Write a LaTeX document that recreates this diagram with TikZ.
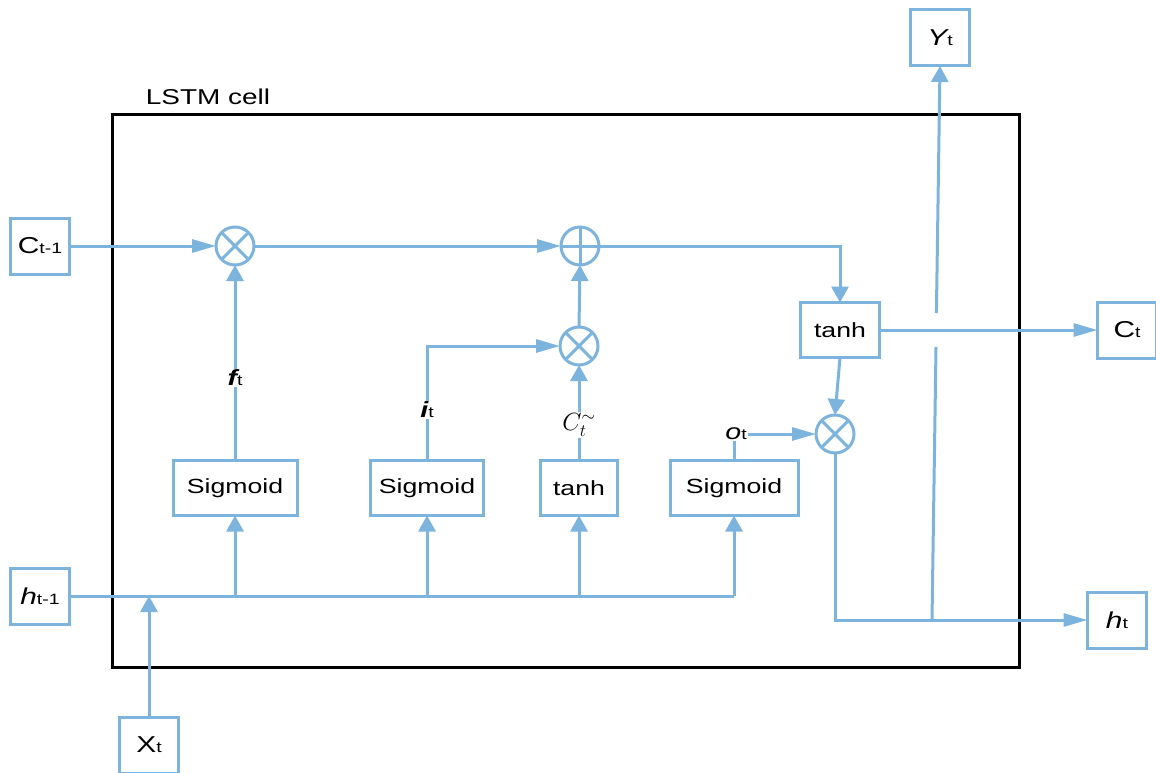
\documentclass[tikz,border=0pt]{standalone}
\usepackage{fontspec}
\setmainfont{Liberation Sans}[FakeStretch=1.3]
\usetikzlibrary{arrows.meta}
\definecolor{lb}{RGB}{125,180,222}
\begin{document}
\begin{tikzpicture}[x=1pt,y=-1pt,
  blk/.style={draw=lb,line width=3pt,inner sep=0pt,outer sep=0pt,fill=white},
  io/.style={blk,minimum width=59pt,minimum height=56pt},
  gate/.style={blk,minimum height=55pt,font=\fontsize{20.5}{22}\selectfont},
  op/.style={circle,draw=lb,line width=3pt,minimum size=38pt,inner sep=0pt,outer sep=0pt},
  conn/.style={draw=lb,line width=3pt},
  ha/.style={conn,-{Triangle[length=24pt,width=13pt]}},
  va/.style={conn,-{Triangle[length=16pt,width=17pt]}},
  lbl/.style={inner sep=1pt}]
\useasboundingbox (0,0) rectangle (1156,773);
% cell frame
\node[draw,line width=3pt,minimum width=907pt,minimum height=552pt,inner sep=0pt] (cell) at (565.5,391) {};
\node[font=\fontsize{21.5}{24}\selectfont] (title) at (208,97) {LSTM cell};
% io boxes
\node[io] (c0) at (40,246) {{\fontsize{23}{24}\selectfont C}{\fontsize{15}{16}\selectfont t-1}};
\node[io] (h0) at (40,596) {{\fontsize{23}{24}\selectfont\itshape h}{\fontsize{15}{16}\selectfont t-1}};
\node[io] (xt) at (149,745) {{\fontsize{23}{24}\selectfont X}{\fontsize{15}{16}\selectfont t}};
\node[io] (yt) at (940,38) {{\fontsize{23}{24}\selectfont\itshape Y}{\fontsize{15}{16}\selectfont t}};
\node[io] (ct) at (1127,330) {{\fontsize{23}{24}\selectfont C}{\fontsize{15}{16}\selectfont t}};
\node[io] (ht) at (1117,620) {{\fontsize{23}{24}\selectfont\itshape h}{\fontsize{15}{16}\selectfont t}};
% gates
\node[gate,minimum width=124pt] (sf) at (235,488) {Sigmoid};
\node[gate,minimum width=113pt] (si) at (427,488) {Sigmoid};
\node[gate,minimum width=77pt] (tc) at (579,488) {tanh};
\node[gate,minimum width=128pt] (so) at (734,488) {Sigmoid};
\node[gate,minimum width=79pt] (th) at (840,330) {tanh};
% operators
\node[op] (m1) at (235,246) {};
\node[op] (pl) at (580,246) {};
\node[op] (m2) at (579,346) {};
\node[op] (m3) at (835,434) {};
\foreach \n in {m1,m2,m3}{
  \draw[conn] (\n.north east) -- (\n.south west) (\n.north west) -- (\n.south east);
}
\draw[conn] (pl.north) -- (pl.south) (pl.west) -- (pl.east);
% labels
\node[lbl] (lf) at (235,378) {{\fontsize{22}{22}\selectfont\bfseries\itshape f}{\fontsize{15}{16}\selectfont t}};
\node[lbl] (li) at (427,410) {{\fontsize{22}{22}\selectfont\bfseries\itshape i}{\fontsize{15}{16}\selectfont t}};
\node[lbl] (lc) at (579,425) {\fontsize{24}{24}\selectfont $C_t^{\sim}$};
\node[lbl] (lo) at (736,434) {{\fontsize{22}{22}\selectfont\itshape o}{\fontsize{15}{16}\selectfont t}};
% cell state path
\draw[ha] (c0.east) -- (m1.west);
\draw[ha] (m1.east) -- (pl.west);
\draw[va] (pl.east) -- (th.north |- pl.east) -- (th.north);
\draw[va] (m2.north) -- (pl.south);
\draw[ha] (th.east) -- (ct.west);
\draw[va] (th.south) -- (m3.north);
% gate outputs
\draw[conn] (sf.north) -- (lf.south);
\draw[va] (lf.north) -- (m1.south);
\draw[conn] (si.north) -- (li.south);
\draw[ha] (li.north) -- (li.north |- m2.west) -- (m2.west);
\draw[conn] (tc.north) -- (lc.south);
\draw[va] (lc.north) -- (m2.south);
\draw[conn] (so.north) -- (so.north |- lo.south);
\draw[ha] (lo.east) -- (m3.west);
% hidden input bus
\draw[conn] (h0.east) -- (so.south |- h0.east);
\draw[va] (sf.south |- h0.east) -- (sf.south);
\draw[va] (si.south |- h0.east) -- (si.south);
\draw[va] (tc.south |- h0.east) -- (tc.south);
\draw[va] (so.south |- h0.east) -- (so.south);
\draw[va] (xt.north) -- (xt.north |- h0.east);
% output
\coordinate (hb) at (835,620);
\coordinate (yb) at (932,620);
\coordinate (g1) at (936,347);
\coordinate (g2) at (936.4,313);
\draw[ha] (m3.south) -- (hb) -- (ht.west);
\draw[conn] (yb) -- (g1);
\draw[va] (g2) -- (yt.south);
\end{tikzpicture}
\end{document}
